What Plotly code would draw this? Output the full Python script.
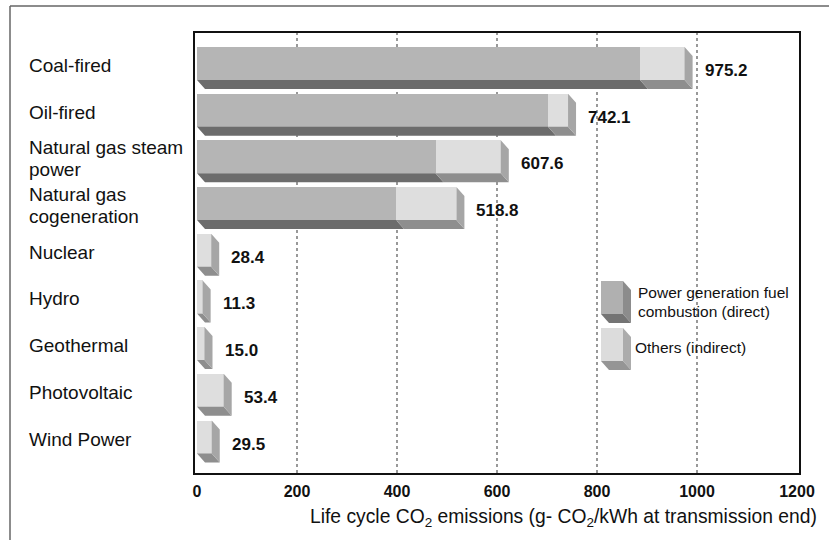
import plotly.graph_objects as go

# Life-cycle CO2 emissions by power source (g-CO2/kWh at transmission end)
categories = ["Coal-fired", "Oil-fired", "Natural gas steam power", "Natural gas cogeneration",
              "Nuclear", "Hydro", "Geothermal", "Photovoltaic", "Wind Power"]
label_lines = [["Coal-fired"], ["Oil-fired"], ["Natural gas steam", "power"],
               ["Natural gas", "cogeneration"], ["Nuclear"], ["Hydro"], ["Geothermal"],
               ["Photovoltaic"], ["Wind Power"]]
totals = [975.2, 742.1, 607.6, 518.8, 28.4, 11.3, 15.0, 53.4, 29.5]
direct = [886, 702, 477, 398, 0, 0, 0, 0, 0]
indirect = [round(t - d, 1) for t, d in zip(totals, direct)]
x_ticks = [0, 200, 400, 600, 800, 1000, 1200]
grid_vals = [200, 400, 600, 800, 1000]

W, H = 829, 540
L, R, T, B = 195, 30, 33, 67
X_RANGE = [-4, 1204]
Y_RANGE = [8.771, -0.653]

px_per_x = (W - L - R) / (X_RANGE[1] - X_RANGE[0])
px_per_y = (H - T - B) / (Y_RANGE[0] - Y_RANGE[1])

BAR_H = 33 / px_per_y          # front face height in row units
DX = 8 / px_per_x              # depth offset (to the right)
DY = 9 / px_per_y              # depth offset (downward)

C_DIRECT = "#b5b5b5"
C_DIRECT_BOTTOM = "#6c6c6c"
C_INDIRECT = "#dedede"
C_INDIRECT_BOTTOM = "#8e8e8e"
C_SIDE = "#a6a6a6"

rows = list(range(len(categories)))

fig = go.Figure()

# Front faces: stacked horizontal bars
fig.add_trace(go.Bar(y=rows, x=direct, orientation="h", width=BAR_H,
                     marker=dict(color=C_DIRECT, line=dict(width=0)),
                     hoverinfo="skip", showlegend=False))
fig.add_trace(go.Bar(y=rows, x=indirect, base=direct, orientation="h", width=BAR_H,
                     marker=dict(color=C_INDIRECT, line=dict(width=0)),
                     hoverinfo="skip", showlegend=False))


def poly_trace(xs, ys, color):
    return go.Scatter(x=xs, y=ys, mode="lines", fill="toself", fillcolor=color,
                      line=dict(width=0, color=color), hoverinfo="skip", showlegend=False)


# Depth faces (bottom strips and right side) derived from the bar values
bd_x, bd_y, bi_x, bi_y, sd_x, sd_y = [], [], [], [], [], []
for i, d, t in zip(rows, direct, totals):
    yt, yb = i - BAR_H / 2, i + BAR_H / 2
    if d > 0:
        bd_x += [0, d, d + DX, DX, 0, None]
        bd_y += [yb, yb, yb + DY, yb + DY, yb, None]
    x0 = d if d > 0 else 0
    bi_x += [x0, t, t + DX, x0 + DX, x0, None]
    bi_y += [yb, yb, yb + DY, yb + DY, yb, None]
    sd_x += [t, t + DX, t + DX, t, t, None]
    sd_y += [yt, yt + DY, yb + DY, yb, yt, None]

fig.add_trace(poly_trace(bd_x, bd_y, C_DIRECT_BOTTOM))
fig.add_trace(poly_trace(bi_x, bi_y, C_INDIRECT_BOTTOM))
fig.add_trace(poly_trace(sd_x, sd_y, C_SIDE))


# Legend keys drawn as small boxes (pixel positions converted to axis units)
def px2x(px):
    return X_RANGE[0] + (px - L) / px_per_x


def px2y(py):
    return Y_RANGE[1] + (py - T) / px_per_y


def box(x0p, x1p, y0p, y1p, front, side, bottom):
    x0, x1, y0, y1 = px2x(x0p), px2x(x1p), px2y(y0p), px2y(y1p)
    fig.add_trace(poly_trace([x0, x1, x1, x0, x0], [y0, y0, y1, y1, y0], front))
    fig.add_trace(poly_trace([x1, x1 + DX, x1 + DX, x1, x1],
                             [y0, y0 + DY, y1 + DY, y1, y0], side))
    fig.add_trace(poly_trace([x0, x1, x1 + DX, x0 + DX, x0],
                             [y1, y1, y1 + DY, y1 + DY, y1], bottom))


box(601, 623, 281, 314, "#b0b0b0", "#8c8c8c", "#747474")
box(601, 623, 328, 361, "#dcdcdc", "#acacac", "#959595")

FONT = "Liberation Sans, Arial, Helvetica, sans-serif"
annotations = []

# Category labels (two-line labels stacked as separate lines)
for i, lines in zip(rows, label_lines):
    n = len(lines)
    for k, text in enumerate(lines):
        offset = (k - (n - 1) / 2) * 22
        annotations.append(dict(x=(27 - L) / (W - L - R), xref="paper", y=i, yref="y",
                                text=text, showarrow=False, xanchor="left", yanchor="middle",
                                yshift=-(offset + 2),
                                font=dict(family=FONT, size=19, color="#111")))

# Value labels
for i, t in zip(rows, totals):
    annotations.append(dict(x=t, xref="x", y=i, yref="y", text=f"{t:.1f}",
                            showarrow=False, xanchor="left", yanchor="middle",
                            xshift=18, yshift=-7,
                            font=dict(family=FONT, size=17, color="#111", weight="bold")))

# Legend text
def paper_x(px):
    return (px - L) / (W - L - R)


def paper_y(py):
    return (H - B - py) / (H - T - B)


for text, xp, yp in [("Power generation fuel", 636, 293),
                     ("combustion (direct)", 636, 311),
                     ("Others (indirect)", 633, 348)]:
    annotations.append(dict(x=paper_x(xp), xref="paper", y=paper_y(yp), yref="paper",
                            text=text, showarrow=False, xanchor="left", yanchor="middle",
                            font=dict(family=FONT, size=15.5, color="#111")))

# Axis title
annotations.append(dict(x=paper_x(819), xref="paper", y=paper_y(518), yref="paper",
                        text="Life cycle CO<sub>2</sub> emissions (g- CO<sub>2</sub>/kWh at transmission end)",
                        showarrow=False, xanchor="right", yanchor="middle",
                        font=dict(family=FONT, size=19.3, color="#111")))

shapes = []
# Dotted vertical gridlines
for g in grid_vals:
    shapes.append(dict(type="line", xref="x", yref="paper", x0=g, x1=g, y0=0, y1=1,
                       line=dict(color="#555", width=1.2, dash="dot"), layer="below"))
# Outer frame (top and left edges)
shapes.append(dict(type="line", xref="paper", yref="paper",
                   x0=paper_x(10), x1=paper_x(10), y0=paper_y(6), y1=paper_y(545),
                   line=dict(color="#666", width=1.5)))
shapes.append(dict(type="line", xref="paper", yref="paper",
                   x0=paper_x(10), x1=paper_x(829), y0=paper_y(6), y1=paper_y(6),
                   line=dict(color="#666", width=1.5)))

fig.update_layout(
    width=W, height=H,
    margin=dict(l=L, r=R, t=T, b=B),
    paper_bgcolor="white", plot_bgcolor="white",
    barmode="stack", bargap=0,
    showlegend=False,
    annotations=annotations,
    shapes=shapes,
    xaxis=dict(range=X_RANGE, tickvals=x_ticks, ticktext=[str(v) for v in x_ticks],
               showgrid=False, zeroline=False,
               showline=True, mirror=True, linecolor="#111", linewidth=2,
               ticks="outside", ticklen=3, tickcolor="rgba(0,0,0,0)",
               tickfont=dict(family=FONT, size=16, color="#111", weight="bold"),
               fixedrange=True),
    yaxis=dict(range=Y_RANGE, showticklabels=False, showgrid=False, zeroline=False,
               showline=True, mirror=True, linecolor="#111", linewidth=2,
               ticks="", fixedrange=True),
)

fig.write_html("out.html")
